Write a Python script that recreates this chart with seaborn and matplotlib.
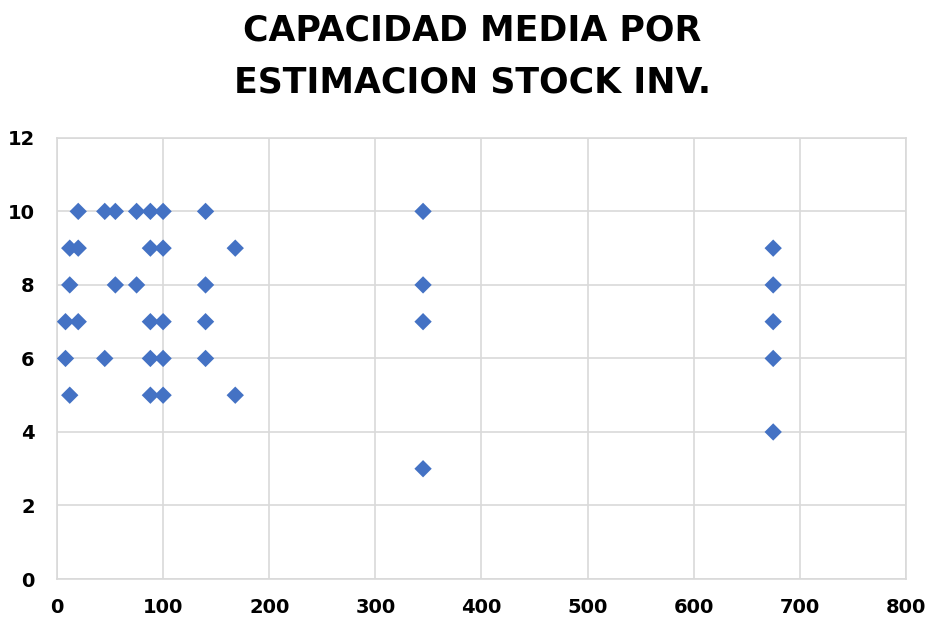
import pandas as pd
import numpy as np
import matplotlib
matplotlib.use('Agg')
import matplotlib.pyplot as plt
import seaborn as sns

# datos
stock_inv = [20, 45, 55, 75, 88, 100, 140,
             12, 20, 88, 100, 168,
             12, 55, 75, 140,
             8, 20, 88, 100, 140,
             8, 45, 88, 100, 140,
             12, 88, 100, 168,
             345, 345, 345, 345,
             675, 675, 675, 675, 675]
capacidad = [10, 10, 10, 10, 10, 10, 10,
             9, 9, 9, 9, 9,
             8, 8, 8, 8,
             7, 7, 7, 7, 7,
             6, 6, 6, 6, 6,
             5, 5, 5, 5,
             10, 8, 7, 3,
             9, 8, 7, 6, 4]

df = pd.DataFrame({'stock': stock_inv, 'capacidad': capacidad})

sns.set_style('white')
plt.rcParams['font.family'] = ['DejaVu Sans']

fig = plt.figure(figsize=(9.3, 6.21), dpi=100)
ax = fig.add_axes([0.0613, 0.0676, 0.9127, 0.7104])

sns.scatterplot(data=df, x='stock', y='capacidad', marker='D', s=78,
                color='#4472C4', edgecolor='none', ax=ax, zorder=3)

ax.set_xlim(0, 800)
ax.set_ylim(0, 12)
ax.set_xticks(np.arange(0, 801, 100))
ax.set_yticks(np.arange(0, 13, 2))
ax.grid(True, color='#D9D9D9', linewidth=1.2)
ax.set_axisbelow(True)
for sp in ax.spines.values():
    sp.set_color('#D9D9D9')
    sp.set_linewidth(1.2)
ax.tick_params(length=0, labelsize=14, labelcolor='black')
ax.tick_params(axis='x', pad=14)
ax.tick_params(axis='y', pad=16)
for lab in ax.get_xticklabels() + ax.get_yticklabels():
    lab.set_fontweight('bold')
ax.set_xlabel('')
ax.set_ylabel('')

fig.suptitle('CAPACIDAD MEDIA POR\nESTIMACION STOCK INV.', x=0.508, y=0.978,
             fontsize=25, fontweight='bold', color='black', linespacing=1.65)

fig.savefig('out.png', dpi=100)
